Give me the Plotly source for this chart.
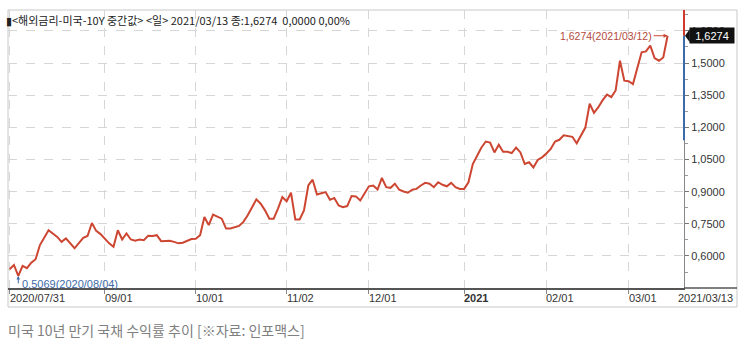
import plotly.graph_objects as go
import pandas as pd

# ---- data ----
market_holidays = ["2020-09-07", "2020-10-12", "2020-11-11", "2020-11-26",
                   "2020-12-25", "2021-01-01", "2021-01-18", "2021-02-15"]
trading_days = pd.bdate_range("2020-07-31", "2021-03-19", freq="C", holidays=market_holidays)

day_number = [0, 1, 2, 3, 4, 5, 6, 7, 9, 10, 11, 12, 13, 15, 16, 17, 18, 19, 20, 21,
              23, 24, 25, 26, 27, 28, 29, 30, 31, 32, 33, 34, 35, 36, 37, 38, 39, 40,
              42, 43, 44, 45, 46, 47, 48, 49, 50, 51, 53, 54, 55, 56, 57, 58, 59, 60,
              61, 62, 63, 64, 65, 66, 67, 68, 69, 70, 71, 72, 73, 74, 75, 76, 77, 78,
              79, 80, 81, 83, 84, 85, 86, 87, 88, 89, 90, 91, 92, 93, 94, 95, 96, 97,
              98, 99, 100, 101, 102, 103, 104, 105, 106, 107, 108, 109, 110, 111, 112,
              113, 114, 115, 116, 117, 118, 119, 120, 121, 122, 123, 124, 125, 126,
              127, 128, 129, 130, 131, 132, 133, 134, 135, 136, 137, 138, 139, 140,
              141, 142, 143, 144, 145, 146, 147, 148, 149, 150, 151, 152]
yield_pct = [0.538, 0.558, 0.5069, 0.554, 0.543, 0.569, 0.585, 0.651, 0.720, 0.705,
             0.689, 0.666, 0.682, 0.636, 0.659, 0.685, 0.693, 0.754, 0.717, 0.702,
             0.659, 0.643, 0.720, 0.677, 0.705, 0.677, 0.671, 0.677, 0.674, 0.694,
             0.693, 0.697, 0.669, 0.671, 0.671, 0.666, 0.659, 0.662,
             0.679, 0.680, 0.697, 0.782, 0.744, 0.793, 0.782, 0.774, 0.728, 0.728,
             0.740, 0.759, 0.790, 0.828, 0.864, 0.844, 0.813, 0.774,
             0.774, 0.821, 0.875, 0.855, 0.895, 0.770, 0.770, 0.813, 0.929, 0.956,
             0.887, 0.893, 0.898, 0.862, 0.870, 0.836, 0.828, 0.833,
             0.880, 0.878, 0.859, 0.925, 0.929, 0.910, 0.964, 0.921, 0.918, 0.937,
             0.909, 0.901, 0.895, 0.909, 0.913, 0.929, 0.941, 0.937,
             0.921, 0.944, 0.932, 0.925, 0.941, 0.921, 0.913, 0.913, 0.944, 1.029,
             1.068, 1.106, 1.134, 1.129, 1.083,
             1.119, 1.086, 1.086, 1.080, 1.106, 1.083, 1.029, 1.037, 1.013, 1.048,
             1.060, 1.078, 1.099, 1.134,
             1.142, 1.163, 1.160, 1.156, 1.126, 1.160, 1.199, 1.310, 1.268, 1.294,
             1.327, 1.353, 1.341, 1.372,
             1.511, 1.418, 1.415, 1.402, 1.476, 1.550, 1.554, 1.581, 1.523, 1.511,
             1.526, 1.6274]
dates = [trading_days[i].strftime("%Y-%m-%d") for i in day_number]

tick_dates = ["2020-07-31", "2020-09-01", "2020-10-01", "2020-11-02",
              "2020-12-01", "2021-01-04", "2021-02-01", "2021-03-01"]
tick_labels = ["2020/07/31", "09/01", "10/01", "11/02", "12/01", "<b>2021</b>", "02/01", "03/01"]
end_label = "2021/03/13"

y_ticks = [0.60, 0.75, 0.90, 1.05, 1.20, 1.35, 1.50, 1.65]
y_labels = ["0,6000", "0,7500", "0,9000", "1,0500", "1,2000", "1,3500", "1,5000", "1,6500"]

last_date, last_value, last_text = "2021-03-12", 1.6274, "1,6274"
low_date, low_value = "2020-08-04", 0.5069
band_low = 1.14

title_text = "▮<해외금리-미국-10Y 중간값> <일> 2021/03/13 종:1,6274  0,0000 0,00%"
caption = "미국 10년 만기 국채 수익률 추이 [※자료: 인포맥스]"

# ---- figure ----
RED = "#cd4632"
BLUE = "#3d6aa8"
TXT = "#333333"
FONT = "Liberation Sans, Arial, sans-serif"
KFONT = "Noto Sans CJK KR, sans-serif"

y_range = [0.4507, 1.7474]

fig = go.Figure()
fig.add_trace(go.Scatter(x=dates, y=yield_pct, mode="lines",
                         line=dict(color=RED, width=2), hoverinfo="skip"))

fig.update_layout(
    width=750, height=343,
    margin=dict(l=8, r=66, t=10, b=55),
    paper_bgcolor="white", plot_bgcolor="white",
    showlegend=False,
    font=dict(family=FONT, size=11, color=TXT),
    xaxis=dict(
        type="date",
        range=["2020-07-30 15:00", "2021-03-17 19:00"],
        rangebreaks=[dict(bounds=["sat", "mon"]), dict(values=market_holidays)],
        tickmode="array", tickvals=tick_dates, showticklabels=False,
        ticks="outside", ticklen=4, tickcolor="#888888",
        showgrid=True, gridcolor="#d6d6d6", griddash="dash", gridwidth=1,
        showline=True, linecolor="#555555", linewidth=1.5,
        zeroline=False, fixedrange=True,
    ),
    yaxis=dict(
        side="right", range=y_range,
        tickmode="array", tickvals=y_ticks, ticktext=y_labels,
        ticks="outside", ticklen=4, tickcolor="#777777",
        tickfont=dict(size=11, color=TXT, family=FONT),
        minor=dict(tick0=0.6, dtick=0.075, ticks="outside", ticklen=3,
                   tickcolor="#999999", showgrid=False),
        showgrid=True, gridcolor="#d6d6d6", griddash="dash", gridwidth=1,
        showline=True, linecolor="#888888", linewidth=1,
        zeroline=False, fixedrange=True,
    ),
)

shapes = [
    # outer frame
    dict(type="rect", xref="paper", yref="paper", x0=0, x1=1.0784, y0=-0.0683, y1=1,
         line=dict(color="#c8c8c8", width=1), layer="below"),
    # x-axis line extension under the right scale
    dict(type="line", xref="paper", yref="paper", x0=1, x1=1.0784, y0=0, y1=0,
         line=dict(color="#555555", width=1.5)),
    # coloured segments on the value scale
    dict(type="line", xref="paper", yref="y", x0=1, x1=1, y0=last_value, y1=y_range[1],
         line=dict(color="#d0392b", width=2)),
    dict(type="line", xref="paper", yref="y", x0=1, x1=1, y0=band_low, y1=last_value,
         line=dict(color=BLUE, width=2)),
    # pointer of the current-value tag
    dict(type="path", xref="paper", yref="y",
         path=f"M 1.0015 {last_value} L 1.0085 {last_value + 0.03} L 1.0085 {last_value - 0.03} Z",
         fillcolor="#111111", line=dict(width=0)),
]
fig.update_layout(shapes=shapes)

ann = []
for d, lbl in zip(tick_dates, tick_labels):
    ann.append(dict(x=d, xref="x", y=0, yref="paper", text=lbl, showarrow=False,
                    xanchor="left", yanchor="top", yshift=-2, xshift=-2,
                    font=dict(size=11, color=TXT, family=FONT)))
ann.append(dict(x=1.075, xref="paper", y=0, yref="paper", text=end_label, showarrow=False,
                xanchor="right", yanchor="top", yshift=-2,
                font=dict(size=11, color=TXT, family=FONT)))
# current value tag
ann.append(dict(x=1.008, xref="paper", y=last_value, yref="y", text=last_text,
                showarrow=False, xanchor="left", yanchor="middle",
                bgcolor="#111111", width=42, height=13, borderpad=1,
                font=dict(size=11, color="white", family=FONT)))
# last point label
ann.append(dict(x=last_date, xref="x", y=last_value, yref="y",
                text="1,6274(2021/03/12)", showarrow=True, ax=-14, ay=0,
                xanchor="right", arrowcolor=RED, arrowhead=2, arrowsize=0.8,
                arrowwidth=1, standoff=0,
                font=dict(size=10.5, color="#b34a3c", family=FONT)))
# low point label
ann.append(dict(x=low_date, xref="x", y=low_value, yref="y", text="",
                showarrow=True, ax=0, ay=9, arrowcolor=BLUE, arrowhead=2,
                arrowsize=0.7, arrowwidth=1, standoff=0))
ann.append(dict(x=low_date, xref="x", y=low_value, yref="y", text="0,5069(2020/08/04)",
                showarrow=False, xanchor="left", yanchor="middle", xshift=2, yshift=-8,
                font=dict(size=11, color=BLUE, family=FONT)))
# title inside the frame
ann.append(dict(x=-0.006, xref="paper", y=1, yref="paper", text=title_text,
                showarrow=False, xanchor="left", yanchor="top", yshift=0,
                font=dict(size=11, color="#222222", family=KFONT)))
# caption
ann.append(dict(x=0, xref="paper", y=0, yref="paper", text=caption, showarrow=False,
                xanchor="left", yanchor="middle", yshift=-42, xshift=-2,
                font=dict(size=14, color="#808080", family=KFONT)))
fig.update_layout(annotations=ann)

fig.write_html("out.html")
